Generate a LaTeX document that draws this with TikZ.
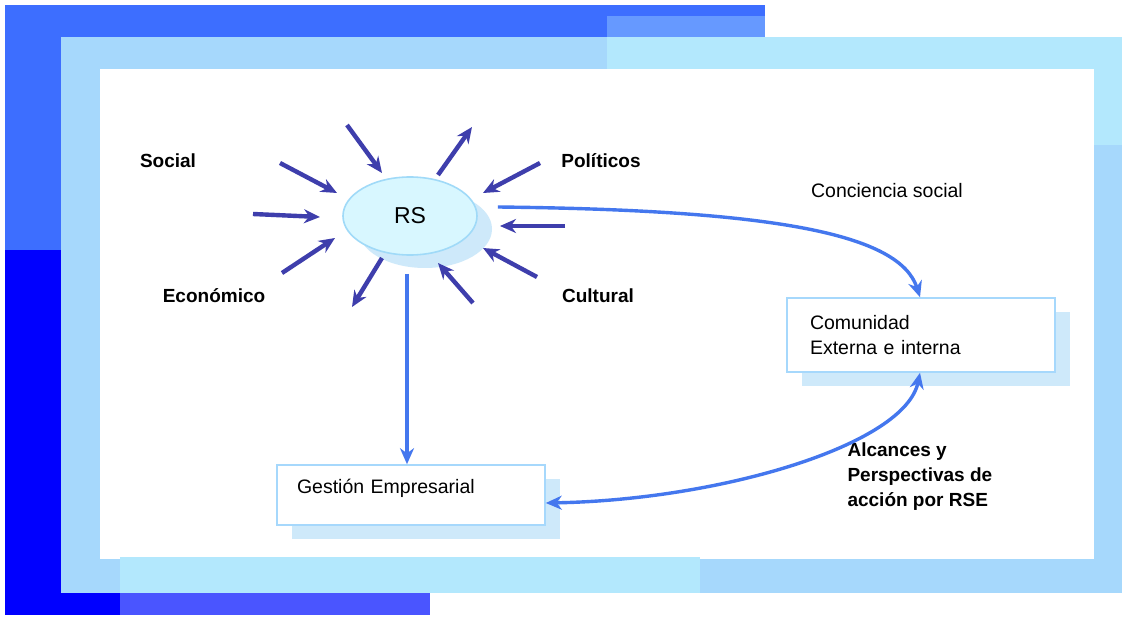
\documentclass[tikz,border=0pt]{standalone}
\usepackage{fontspec}
\setmainfont{Liberation Sans}
\usetikzlibrary{arrows.meta,shapes.geometric,shadows}
\definecolor{bandblue}{RGB}{61,110,255}
\definecolor{deepblue}{RGB}{0,0,255}
\definecolor{midblue}{RGB}{74,85,255}
\definecolor{paleblue}{RGB}{102,153,255}
\definecolor{frameblue}{RGB}{166,216,252}
\definecolor{framecyan}{RGB}{179,232,253}
\definecolor{raycol}{RGB}{62,62,172}
\definecolor{flowcol}{RGB}{68,119,238}
\definecolor{rsfill}{RGB}{216,247,255}
\definecolor{rsline}{RGB}{160,218,248}
\definecolor{shade}{RGB}{206,233,250}
\definecolor{boxline}{RGB}{166,216,252}
\begin{document}
\begin{tikzpicture}[x=1pt,y=-1pt,>={Stealth[length=16pt,width=14pt]},font=\fontsize{19.5}{25}\selectfont,
		ray/.style={->,draw=raycol,line width=4.4pt},
		flow/.style={draw=flowcol,line width=3.4pt},
		box/.style={draw=boxline,line width=1.6pt,fill=white,align=left,drop shadow={shadow xshift=15pt,shadow yshift=-14pt,fill=shade,opacity=1}},
		tag/.style={font=\bfseries\fontsize{19}{25}\selectfont,align=left}]
	\useasboundingbox (0,0) rectangle (1122,620);
	\fill[white] (0,0) rectangle (1122,620);
	\fill[bandblue] (5,5) rectangle (765,37);
	\fill[bandblue] (5,5) rectangle (61,250);
	\fill[paleblue] (607,16) rectangle (765,37);
	\fill[deepblue] (5,250) rectangle (61,615);
	\fill[deepblue] (5,593) rectangle (120,615);
	\fill[midblue] (120,593) rectangle (430,615);
	\fill[frameblue] (61,37) rectangle (1122,593);
	\fill[framecyan] (607,37) rectangle (1122,69);
	\fill[framecyan] (1094,37) rectangle (1122,145);
	\fill[white] (100,69) rectangle (1094,559);
	\fill[framecyan] (120,557) rectangle (700,593);
	\node[ellipse,draw=rsline,line width=1.6pt,fill=rsfill,minimum width=134pt,minimum height=78pt,
		drop shadow={shadow xshift=15pt,shadow yshift=-13pt,fill=shade,opacity=1},font=\fontsize{23}{26}\selectfont] (rs) at (410,216) {RS};
	\foreach \xa/\ya/\xb/\yb in {347/125/382/173, 280/163/337/193, 253/214/320/217, 282/273/335/238, 382/258/352/307,
		473/303/438/263, 537/277/483/248, 565/226/500/226, 540/163/483/193, 438/175/472/127}
		\draw[ray] (\xa,\ya) -- (\xb,\yb);
	\node[tag] (social) at (168,161) {Social};
	\node[tag] (politicos) at (601,161) {Políticos};
	\node[tag] (economico) at (214,296) {Económico};
	\node[tag] (cultural) at (598,296) {Cultural};
	\node (conciencia) at (887,191) {Conciencia social};
	\node[box,minimum height=74pt,text width=222pt,inner xsep=23pt] (com) at (921,335) {Comunidad\\Externa e interna};
	\node[box,minimum height=60pt,text width=228pt,inner xsep=20pt,text depth=17pt] (gest) at (411,495) {Gestión Empresarial};
	\node[tag,anchor=west] (alcances) at (844,477) {Alcances y\\Perspectivas de\\acción por RSE};
	\draw[flow,->] ([xshift=20pt,yshift=9pt]rs.east) .. controls (780,210) and (900,235) .. ([xshift=-1pt]com.north);
	\draw[flow,->] ([xshift=-3pt,yshift=-18pt]rs.south) -- ([xshift=-4pt]gest.north);
	\draw[flow,<->] ([xshift=-1pt]com.south) .. controls (905,445) and (720,500) .. ([yshift=-8pt]gest.east);
\end{tikzpicture}
\end{document}
